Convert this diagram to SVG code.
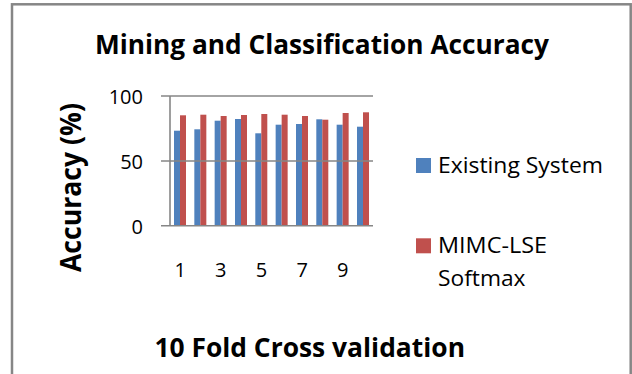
<svg xmlns="http://www.w3.org/2000/svg" width="632" height="374" viewBox="0 0 632 374">
  <style>
    .frame { fill: #ffffff; stroke: #868686; stroke-width: 2.5; }
    .grid { stroke: #868686; stroke-width: 1.6; fill: none; }
    .s1 { fill: #4f81bd; }
    .s2 { fill: #c0504d; }
    .t { font-family: "Open Sans", Lato, "Liberation Sans", sans-serif; fill: #000000; }
    .title { font-size: 26.5px; font-weight: bold; }
    .ytitle { font-size: 28px; font-weight: bold; }
    .xtitle { font-size: 27px; font-weight: bold; }
    .tick { font-size: 20px; }
    .leg { font-size: 21px; }
  </style>

  <!-- chart area border (bottom edge lies outside the canvas) -->
  <rect class="frame" x="12" y="4.3" width="618.7" height="380"/>

  <!-- chart title -->
  <text class="t title" x="322" y="53.5" text-anchor="middle" textLength="454" lengthAdjust="spacingAndGlyphs">Mining and Classification Accuracy</text>

  <!-- value axis -->
  <g id="y-axis">
    <text class="t tick" x="143" y="104" text-anchor="end">100</text>
    <text class="t tick" x="143" y="169" text-anchor="end">50</text>
    <text class="t tick" x="143" y="233.5" text-anchor="end">0</text>
    <text class="t ytitle" transform="translate(81,187.5) rotate(-90)" text-anchor="middle" textLength="169" lengthAdjust="spacingAndGlyphs">Accuracy (%)</text>
  </g>

  <!-- series: Existing System -->
  <g id="series-existing">
    <rect class="s1" x="174" y="130.7" width="6" height="95"/>
    <rect class="s1" x="194.33" y="129.3" width="6" height="96.4"/>
    <rect class="s1" x="214.66" y="120.7" width="6" height="105"/>
    <rect class="s1" x="235" y="119" width="6" height="106.7"/>
    <rect class="s1" x="255.3" y="133.3" width="6" height="92.4"/>
    <rect class="s1" x="275.65" y="124.7" width="6" height="101"/>
    <rect class="s1" x="296" y="124" width="6" height="101.7"/>
    <rect class="s1" x="316.3" y="119.3" width="6" height="106.4"/>
    <rect class="s1" x="336.65" y="124.7" width="6" height="101"/>
    <rect class="s1" x="357" y="126.7" width="6" height="99"/>
  </g>

  <!-- series: MIMC-LSE Softmax -->
  <g id="series-mimc">
    <rect class="s2" x="180" y="115.3" width="6" height="110.4"/>
    <rect class="s2" x="200.33" y="114.7" width="6" height="111"/>
    <rect class="s2" x="220.66" y="116" width="6" height="109.7"/>
    <rect class="s2" x="241" y="115" width="6" height="110.7"/>
    <rect class="s2" x="261.3" y="114" width="6" height="111.7"/>
    <rect class="s2" x="281.65" y="114.7" width="6" height="111"/>
    <rect class="s2" x="302" y="116" width="6" height="109.7"/>
    <rect class="s2" x="322.3" y="119.7" width="6" height="106"/>
    <rect class="s2" x="342.65" y="113" width="6" height="112.7"/>
    <rect class="s2" x="363" y="112.3" width="6" height="113.4"/>
  </g>

  <!-- gridlines and axis lines -->
  <g id="axes">
    <line class="grid" x1="161" y1="96" x2="373" y2="96"/>
    <line class="grid" x1="161" y1="161" x2="373" y2="161"/>
    <line class="grid" x1="161" y1="225.7" x2="373" y2="225.7"/>
    <line class="grid" x1="170" y1="96" x2="170" y2="225.7"/>
  </g>

  <!-- category axis -->
  <g id="x-axis">
    <text class="t tick" x="180.2" y="277.3" text-anchor="middle">1</text>
    <text class="t tick" x="220.8" y="277.3" text-anchor="middle">3</text>
    <text class="t tick" x="261.5" y="277.3" text-anchor="middle">5</text>
    <text class="t tick" x="302.2" y="277.3" text-anchor="middle">7</text>
    <text class="t tick" x="342.8" y="277.3" text-anchor="middle">9</text>
    <text class="t xtitle" x="309.7" y="357.3" text-anchor="middle" textLength="310.6" lengthAdjust="spacingAndGlyphs">10 Fold Cross validation</text>
  </g>

  <!-- legend -->
  <g id="legend">
    <rect class="s1" x="416" y="158" width="15" height="15"/>
    <text class="t leg" x="438" y="173" textLength="165" lengthAdjust="spacingAndGlyphs">Existing System</text>
    <rect class="s2" x="416" y="238.3" width="15" height="15"/>
    <text class="t leg" x="438" y="253.3" textLength="109" lengthAdjust="spacingAndGlyphs">MIMC-LSE</text>
    <text class="t leg" x="438" y="286" textLength="87.5" lengthAdjust="spacingAndGlyphs">Softmax</text>
  </g>
</svg>
